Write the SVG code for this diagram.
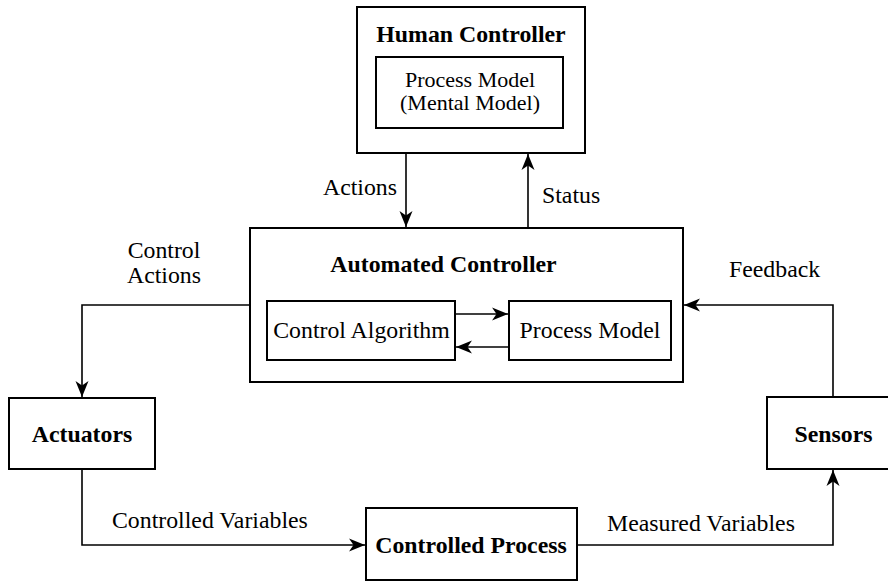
<svg xmlns="http://www.w3.org/2000/svg" width="888" height="581" viewBox="0 0 888 581">
  <style>
    .box { fill: #ffffff; stroke: #000000; stroke-width: 2; }
    .wire { fill: none; stroke: #000000; stroke-width: 1.6; }
    text { font-family: 'Liberation Serif', 'Times New Roman', serif; font-size: 23.8px; fill: #000000; }
    .title { font-weight: bold; }
    .mid { text-anchor: middle; }
    .inner { font-size: 22px; }
  </style>
  <defs>
    <marker id="arrow" markerUnits="userSpaceOnUse" markerWidth="18" markerHeight="14" refX="16" refY="7" orient="auto">
      <path d="M0,0.5 L16,7 L0,13.5 L4.5,7 z" fill="#000000"/>
    </marker>
  </defs>

  <rect x="0" y="0" width="888" height="581" fill="#ffffff"/>

  <!-- human controller -->
  <g id="human-controller">
    <rect class="box" x="357" y="7" width="228" height="146"/>
    <text class="title mid" x="471" y="42">Human Controller</text>
    <rect class="box" x="376" y="57" width="187" height="71"/>
    <text class="mid inner" x="470" y="87">Process Model</text>
    <text class="mid inner" x="470" y="110">(Mental Model)</text>
  </g>

  <!-- automated controller -->
  <g id="automated-controller">
    <rect class="box" x="250" y="228" width="433" height="154"/>
    <text class="title mid" x="443.5" y="272">Automated Controller</text>
  </g>

  <g id="control-algorithm">
    <rect class="box" x="267" y="301" width="188" height="59"/>
    <text class="mid" x="361.5" y="338">Control Algorithm</text>
  </g>

  <g id="process-model">
    <rect class="box" x="509" y="301" width="162" height="59"/>
    <text class="mid" x="590" y="338">Process Model</text>
  </g>

  <g id="actuators">
    <rect class="box" x="9" y="398" width="146" height="71"/>
    <text class="title mid" x="82" y="442">Actuators</text>
  </g>

  <g id="sensors">
    <rect class="box" x="767" y="397" width="134" height="72"/>
    <text class="title mid" x="833.5" y="442">Sensors</text>
  </g>

  <g id="controlled-process">
    <rect class="box" x="366" y="508" width="211" height="72"/>
    <text class="title mid" x="471" y="553">Controlled Process</text>
  </g>

  <!-- connectors, drawn over the boxes so the inner arrows show -->
  <g id="connectors">
    <path class="wire" d="M406,153 L406,227" marker-end="url(#arrow)"/>
    <path class="wire" d="M528,228 L528,154" marker-end="url(#arrow)"/>
    <path class="wire" d="M250,305 L82,305 L82,397" marker-end="url(#arrow)"/>
    <path class="wire" d="M833,397 L833,305 L684,305" marker-end="url(#arrow)"/>
    <path class="wire" d="M82,469 L82,545 L365,545" marker-end="url(#arrow)"/>
    <path class="wire" d="M577,545 L833,545 L833,470" marker-end="url(#arrow)"/>
    <path class="wire" d="M456,314 L508,314" marker-end="url(#arrow)"/>
    <path class="wire" d="M508,347 L456,347" marker-end="url(#arrow)"/>
    <text x="397" y="195" text-anchor="end">Actions</text>
    <text x="542" y="203">Status</text>
    <text class="mid" x="164" y="258">Control</text>
    <text class="mid" x="164" y="283">Actions</text>
    <text x="729" y="277">Feedback</text>
    <text x="112" y="528">Controlled Variables</text>
    <text x="607" y="531">Measured Variables</text>
  </g>
</svg>
